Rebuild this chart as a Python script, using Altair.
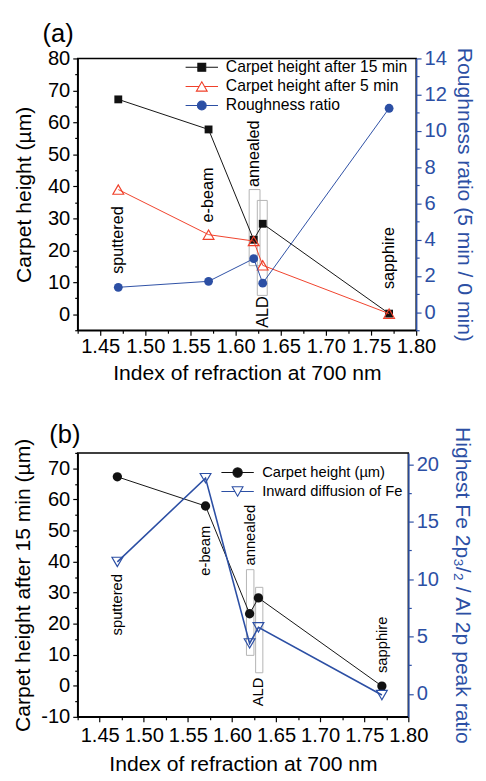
import altair as alt
import pandas as pd

# ---------------- data ----------------
n_index = [1.47, 1.57, 1.62, 1.63, 1.77]
samples = ["sputtered", "e-beam", "annealed", "ALD", "sapphire"]
panel_tags = ["(a)", "(b)"]

# panel (a)
h15_a = [67.2, 57.8, 23.3, 28.3, 0.2]
h5_a = [39.0, 24.9, 22.9, 15.3, 0.2]
rough_a = [1.37, 1.70, 2.95, 1.60, 11.25]
label_y_a = [23.2, 37.3, 50.2, 0.7, 17.6]
box_x_a = [1.615, 1.624]
box_x2_a = [1.627, 1.635]
box_y_a = [15.2, 5.9]
box_y2_a = [39.0, 35.6]
series_a = ["Carpet height after 15 min", "Carpet height after 5 min", "Roughness ratio"]

# panel (b)
h15_b = [67.3, 57.9, 23.2, 28.3, -0.1]
fe_b = [11.5, 18.8, 4.4, 5.8, -0.1]
label_y_b = [26.1, 43.5, 48.5, -2.0, 13.2]
box_x_b = [1.6164, 1.6268]
box_x2_b = [1.6249, 1.635]
box_y_b = [9.8, 4.2]
box_y2_b = [37.4, 31.7]
series_b = ["Carpet height (\u00b5m)", "Inward diffusion of Fe"]

# tick values
x_ticks = [1.425, 1.45, 1.475, 1.5, 1.525, 1.55, 1.575, 1.6, 1.625, 1.65,
           1.675, 1.7, 1.725, 1.75, 1.775, 1.8]
yl_ticks_a = [-5, 0, 5, 10, 15, 20, 25, 30, 35, 40, 45, 50, 55, 60, 65, 70, 75, 80]
yr_ticks_a = [-1, 0, 1, 2, 3, 4, 5, 6, 7, 8, 9, 10, 11, 12, 13, 14]
yl_ticks_b = [-10, -5, 0, 5, 10, 15, 20, 25, 30, 35, 40, 45, 50, 55, 60, 65, 70, 75]
yr_ticks_b = [0, 2.5, 5, 7.5, 10, 12.5, 15, 17.5, 20]

# ---------------- style ----------------
FONT = "Liberation Sans"
BLUE = "#2c4fa4"
RED = "#f0402a"
GRAY = "#b4b4b4"
BLACK = "#111111"
LABEL_SIZE = 20.5
TITLE_SIZE = 21.5

XMAJ = "abs(datum.value*20 - round(datum.value*20)) < 0.001"


def x_axis(label_pad, title_pad):
    return alt.Axis(
        values=x_ticks, title="Index of refraction at 700 nm",
        labelExpr=f"({XMAJ}) ? format(datum.value, '.2f') : ''",
        tickSize={"condition": {"test": XMAJ, "value": 5}, "value": 3},
        labelPadding=label_pad, titlePadding=title_pad, labelOverlap=False,
        labelFontSize=LABEL_SIZE, titleFontSize=TITLE_SIZE, labelFont=FONT, titleFont=FONT,
        titleFontWeight="normal", labelColor="black", titleColor="black",
        domainColor="black", tickColor="black", domainWidth=1.5, tickWidth=1.2,
        grid=False, labelFlush=False,
    )


def y_axis(values, step, title, orient, color, title_pad):
    test = f"datum.value % {step} == 0"
    return alt.Axis(
        values=values, title=title, orient=orient,
        labelExpr=f"({test}) ? '' + datum.value : ''",
        tickSize={"condition": {"test": test, "value": 5}, "value": 3},
        labelPadding=3, titlePadding=title_pad, labelOverlap=False,
        labelFontSize=LABEL_SIZE, titleFontSize=TITLE_SIZE, labelFont=FONT, titleFont=FONT,
        titleFontWeight="normal", labelColor=color, titleColor=color,
        domainColor=color, tickColor=color, domainWidth=1.5, tickWidth=1.2,
        grid=False,
    )


def legend(x, y, size, offset, pad):
    return alt.Legend(
        title=None, orient="none", legendX=x, legendY=y, direction="vertical",
        labelFont=FONT, labelFontSize=size, labelColor="black", labelLimit=400,
        labelOffset=offset, symbolSize=121, symbolStrokeWidth=1.1,
        rowPadding=pad, padding=0, offset=0,
    )


def build_panel(tag, df, box_df, yl_dom, yr_dom, yl_axis, yr_axis, xax,
                left_series, right_series, leg_df, leg, shapes, strokes, fills,
                ann_size, tag_x, tag_y, width, height):
    xs = alt.Scale(domain=[1.425, 1.80], nice=False, zero=False)
    yls = alt.Scale(domain=yl_dom, nice=False, zero=False)
    yrs = alt.Scale(domain=yr_dom, nice=False, zero=False)
    X = alt.X("n:Q", scale=xs, axis=xax)

    base = alt.Chart(df)
    boxes = alt.Chart(box_df).mark_rect(filled=False, color=GRAY, strokeWidth=1).encode(
        x=alt.X("bx:Q", scale=xs, axis=xax), x2="bx2:Q",
        y=alt.Y("by:Q", scale=yls, axis=yl_axis), y2="by2:Q")
    ann = base.mark_text(angle=270, align="center", baseline="middle", font=FONT,
                         fontSize=ann_size, color="black").encode(
        x=X, y=alt.Y("ly:Q", scale=yls, axis=yl_axis), text="sample:N")
    tag_layer = alt.Chart(pd.DataFrame({"t": [tag]})).mark_text(
        font=FONT, fontSize=26, color="black", align="center", baseline="middle").encode(
        x=alt.value(tag_x), y=alt.value(tag_y), text="t:N")

    left_layers = [boxes, ann]
    for field, color, shape, size, filled, lw in left_series:
        left_layers.append(base.mark_line(color=color, strokeWidth=lw).encode(
            x=X, y=alt.Y(f"{field}:Q", scale=yls, axis=yl_axis)))
        if filled:
            pt = base.mark_point(shape=shape, size=size, filled=True, color=color, opacity=1)
        else:
            pt = base.mark_point(shape=shape, size=size, filled=False, color=color,
                                 strokeWidth=1.2, opacity=1)
        left_layers.append(pt.encode(x=X, y=alt.Y(f"{field}:Q", scale=yls, axis=yl_axis)))

    names = list(leg_df["series"])
    leg_layer = alt.Chart(leg_df).transform_filter("false").mark_point(
        size=121, opacity=1, filled=True).encode(
        shape=alt.Shape("series:N", scale=alt.Scale(domain=names, range=shapes), legend=leg),
        stroke=alt.Stroke("series:N", scale=alt.Scale(domain=names, range=strokes), legend=leg),
        fill=alt.Fill("series:N", scale=alt.Scale(domain=names, range=fills), legend=leg),
    )
    left_layers += [tag_layer, leg_layer]
    left = alt.layer(*left_layers)

    right_layers = []
    for field, color, shape, size, filled, lw in right_series:
        right_layers.append(base.mark_line(color=color, strokeWidth=lw).encode(
            x=X, y=alt.Y(f"{field}:Q", scale=yrs, axis=yr_axis)))
        if filled:
            pt = base.mark_point(shape=shape, size=size, filled=True, color=color, opacity=1)
        else:
            pt = base.mark_point(shape=shape, size=size, filled=False, color=color,
                                 strokeWidth=1.2, opacity=1)
        right_layers.append(pt.encode(x=X, y=alt.Y(f"{field}:Q", scale=yrs, axis=yr_axis)))
    right = alt.layer(*right_layers)

    return alt.layer(left, right).resolve_scale(y="independent").properties(
        width=width, height=height)


# ---------------- panel (a) ----------------
df_a = pd.DataFrame({"n": n_index, "h15": h15_a, "h5": h5_a, "rough": rough_a,
                     "sample": samples, "ly": label_y_a})
box_a = pd.DataFrame({"bx": box_x_a, "bx2": box_x2_a, "by": box_y_a, "by2": box_y2_a})
shapes_a = [
    "M-3,0H-0.73M0.73,0H3M-0.73,-0.73H0.73V0.73H-0.73Z",
    "M-3,0H-0.5M0.5,0H3M0,-0.87L1,0.87H-1Z",
    "M-3,0H-0.82M0.82,0H3M0.82,0A0.82,0.82,0,1,1,-0.82,0A0.82,0.82,0,1,1,0.82,0Z",
]
chart_a = build_panel(
    panel_tags[0], df_a, box_a, [-5, 80], [-1, 14],
    y_axis(yl_ticks_a, 10, "Carpet height (\u00b5m)", "left", "black", 12),
    y_axis(yr_ticks_a, 2, "Roughness ratio (5 min / 0 min)", "right", BLUE, 6),
    x_axis(2, 6),
    [("h15", BLACK, "square", 64, True, 1), ("h5", RED, "triangle-up", 121, False, 1)],
    [("rough", BLUE, "circle", 81, True, 1)],
    pd.DataFrame({"series": series_a}),
    legend(118.5, 1, 16, 16.5, 3.5), shapes_a,
    [BLACK, RED, BLUE], [BLACK, "white", BLUE],
    16.5, -20, -25, 345, 277,
)

# ---------------- panel (b) ----------------
df_b = pd.DataFrame({"n": n_index, "h15": h15_b, "fe": fe_b,
                     "sample": samples, "ly": label_y_b})
box_b = pd.DataFrame({"bx": box_x_b, "bx2": box_x2_b, "by": box_y_b, "by2": box_y2_b})
shapes_b = [
    "M-3,0H-0.86M0.86,0H3M0.86,0A0.86,0.86,0,1,1,-0.86,0A0.86,0.86,0,1,1,0.86,0Z",
    "M-3,0H-0.5M0.5,0H3M0,0.87L1,-0.87H-1Z",
]
chart_b = build_panel(
    panel_tags[1], df_b, box_b, [-10, 75], [-2, 21],
    y_axis(yl_ticks_b, 10, "Carpet height after 15 min (\u00b5m)", "left", "black", 6),
    y_axis(yr_ticks_b, 5, "Highest Fe 2p\u2083/\u2082 / Al 2p peak ratio", "right", BLUE, 12),
    x_axis(4, 8),
    [("h15", BLACK, "circle", 90, True, 1)],
    [("fe", BLUE, "triangle-down", 121, False, 1.6)],
    pd.DataFrame({"series": series_b}),
    legend(155.5, 12.5, 15, 17.5, 3.3), shapes_b,
    [BLACK, BLUE], [BLACK, "white"],
    15, -13, -18, 337, 269,
)

chart = alt.vconcat(chart_a, chart_b, spacing=125, bounds="flush").resolve_scale(
    shape="independent", stroke="independent", fill="independent"
).properties(
    padding={"left": 4, "top": 5, "right": 3, "bottom": 0}
).configure_view(stroke="black", strokeWidth=1.5)

chart.save("out.html", embed_options={"renderer": "svg", "actions": False})
